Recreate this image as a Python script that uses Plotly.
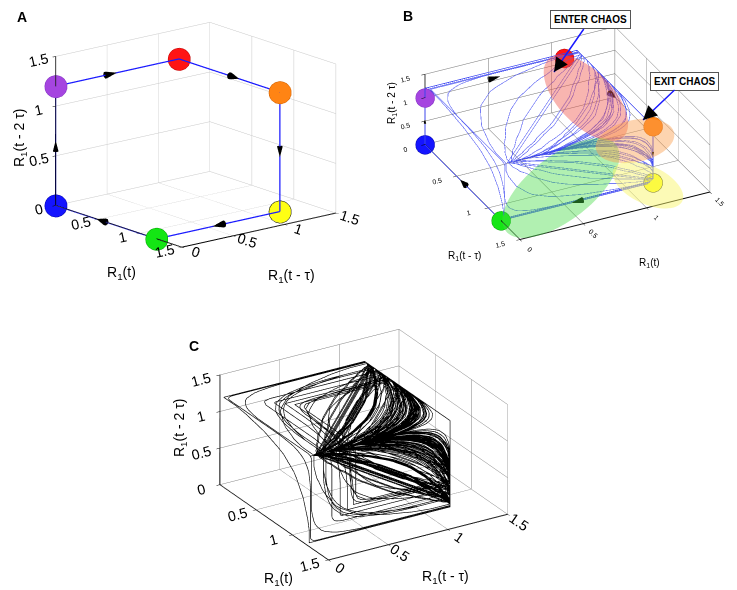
import numpy as np
import plotly.graph_objects as go

W, H = 737, 590

# ---- panel A: the regular cycle (blue, purple, red, orange, yellow, green)
corner_colors = ["#1414ff", "#a545e0", "#ff1414", "#ff8414", "#ffff14", "#14e614"]
corner_edges = ["#0000aa", "#8030c0", "#c00000", "#d06000", "#000000", "#00a000"]
a_x = [0.0, 0.0, 0.0, 1.2, 1.2, 1.2]
a_y = [0.0, 0.0, 1.2, 1.2, 1.2, 0.0]
a_z = [0.0, 1.2, 1.2, 1.2, 0.0, 0.0]
arrow_frac = [0.5, 0.45, 0.55, 0.5, 0.5, 0.55]  # position of arrowhead along each edge

# R1 switches between a high plateau and dips of varying depth / length
HIGH = 1.2

# ---- panel B: marker positions and the transient into / out of chaos
b_x = [0.0, 0.0, 0.0, 1.2, 1.2, 1.2]
b_y = [0.0, 0.0, 1.1, 1.2, 1.2, 0.0]
b_z = [0.0, 1.0, 1.1, 1.2, 0.0, 0.0]
b_hi_dur = [2.2, 2.2, 2.1, 2.3, 2.2, 2.4, 2.1, 2.3, 2.2, 2.4, 2.2, 2.3,
            2.1, 2.2, 2.4, 2.2, 2.3, 2.1, 2.2, 2.4, 2.3, 2.1, 2.2, 2.3,
            2.4, 2.2, 2.1, 2.3, 2.2, 2.2]
b_lo = [0.0, 0.0, 0.03, 0.1, 0.25, 0.05, 0.35, 0.15, 0.45, 0.2, 0.08, 0.3,
        0.12, 0.5, 0.06, 0.4, 0.18, 0.28, 0.09, 0.55, 0.14, 0.33, 0.04, 0.22,
        0.42, 0.07, 0.03, 0.02, 0.0, 0.0]
b_lo_dur = [2.1, 2.1, 1.0, 0.25, 0.1, 0.3, 0.15, 0.05, 0.2, 0.1, 0.3, 0.15,
            0.2, 0.05, 0.25, 0.15, 0.0, 0.2, 0.35, 0.1, 0.15, 0.25, 0.5, 0.2,
            0.1, 0.4, 0.7, 1.1, 2.1, 2.1]

# ---- panel C: chaotic regime
c_hi_dur = [2.3, 2.5, 2.2, 2.4, 2.1, 2.6, 2.3, 2.2, 2.5, 2.4, 2.3, 2.1, 2.5, 2.2,
            2.4, 2.2, 2.6, 2.3, 2.1, 2.5, 2.4, 2.2, 2.3, 2.6, 2.1, 2.4, 2.3, 2.5,
            2.3, 2.5, 2.2, 2.4, 2.1, 2.6, 2.3, 2.2, 2.5, 2.4, 2.3, 2.1, 2.5, 2.2,
            2.4, 2.2, 2.6, 2.3, 2.1, 2.5, 2.4, 2.2, 2.3, 2.6, 2.1, 2.4, 2.3, 2.5,
            2.3, 2.5, 2.2, 2.4, 2.1, 2.6, 2.3, 2.2, 2.5, 2.4, 2.3, 2.1, 2.5, 2.2,
            2.4, 2.2, 2.6, 2.3, 2.1, 2.5, 2.4, 2.2, 2.3, 2.6, 2.1, 2.4, 2.3, 2.5,
            2.3, 2.5, 2.2, 2.4, 2.1, 2.6, 2.3, 2.2, 2.5, 2.4, 2.3, 2.1, 2.5, 2.2,
            2.4, 2.2, 2.6, 2.3, 2.1, 2.5, 2.4, 2.2, 2.3, 2.6, 2.1, 2.4, 2.3, 2.5,
            2.3, 2.5, 2.2, 2.4, 2.1, 2.6, 2.3, 2.2, 2.5, 2.4, 2.3, 2.1, 2.5, 2.2,
            2.4, 2.2, 2.6, 2.3, 2.1, 2.5, 2.4, 2.2, 2.3, 2.6, 2.1, 2.4, 2.3, 2.5]
c_lo = [0.05, 0.32, 0.12, 0.48, 0.08, 0.22, 0.03, 0.38, 0.58, 0.1, 0.27, 0.43, 0.06, 0.18,
        0.52, 0.04, 0.3, 0.14, 0.4, 0.09, 0.64, 0.24, 0.03, 0.34, 0.07, 0.5, 0.16, 0.05,
        0.44, 0.28, 0.11, 0.55, 0.06, 0.36, 0.04, 0.2, 0.46, 0.13, 0.31, 0.08, 0.6, 0.19,
        0.37, 0.25, 0.03, 0.47, 0.1, 0.3, 0.56, 0.15, 0.41, 0.06, 0.23, 0.35, 0.12, 0.51,
        0.66, 0.07, 0.02, 0.29, 0.2, 0.45, 0.09, 0.33, 0.05, 0.53, 0.14, 0.39, 0.08, 0.26,
        0.04, 0.19, 0.47, 0.11, 0.59, 0.24, 0.36, 0.06, 0.42, 0.17, 0.3, 0.03, 0.5, 0.13,
        0.4, 0.07, 0.54, 0.21, 0.34, 0.1, 0.62, 0.27, 0.05, 0.44, 0.15, 0.32, 0.09, 0.49,
        0.18, 0.38, 0.04, 0.57, 0.12, 0.28, 0.46, 0.08, 0.35, 0.22, 0.03, 0.52, 0.16, 0.41,
        0.06, 0.31, 0.6, 0.14, 0.25, 0.43, 0.1, 0.37, 0.05, 0.55, 0.2, 0.33, 0.07, 0.48,
        0.27, 0.12, 0.45, 0.04, 0.39, 0.17, 0.58, 0.09, 0.3, 0.23, 0.5, 0.06, 0.36, 0.15]
c_lo_dur = [0.2, 0.1, 0.3, 0.15, 0.25, 0.05, 0.9, 0.2, 0.1, 0.35, 0.15, 0.0, 0.25, 0.1,
            0.3, 0.2, 0.05, 0.6, 0.15, 0.25, 0.1, 0.3, 0.2, 1.0, 0.05, 0.15, 0.35, 0.2,
            0.1, 0.25, 0.15, 0.3, 0.0, 0.2, 0.7, 0.1, 0.25, 0.15, 0.35, 0.05, 0.2, 0.3,
            0.15, 0.5, 0.1, 0.2, 0.3, 0.05, 0.25, 0.15, 0.8, 0.1, 0.2, 0.35, 0.0, 0.25,
            0.1, 0.3, 1.1, 0.15, 0.2, 0.05, 0.35, 0.1, 0.25, 0.15, 0.55, 0.2, 0.3, 0.05,
            0.25, 0.15, 0.1, 0.3, 0.2, 0.0, 0.65, 0.15, 0.25, 0.1, 0.35, 0.2, 0.05, 0.3,
            0.1, 0.2, 0.15, 0.85, 0.25, 0.05, 0.3, 0.1, 0.2, 0.15, 0.35, 0.45, 0.0, 0.2,
            0.3, 0.1, 0.25, 0.15, 0.2, 0.95, 0.05, 0.3, 0.1, 0.25, 0.2, 0.15, 0.6, 0.1,
            0.2, 0.35, 0.05, 0.15, 0.3, 0.1, 0.25, 0.75, 0.2, 0.0, 0.3, 0.15, 0.1, 0.25,
            0.15, 0.05, 0.3, 0.2, 1.05, 0.1, 0.25, 0.15, 0.35, 0.2, 0.05, 0.5, 0.3, 0.1]

RAMP = 0.7
RAMP_SHAPE = [0.0, 0.02, 0.07, 0.16, 0.3, 0.5, 0.7, 0.84, 0.93, 0.98, 1.0]
DT = 0.02


def build_signal(hi_dur, lo, lo_dur):
    t, v = [0.0], [lo[0]]
    now, prev = 0.0, lo[0]
    n = len(RAMP_SHAPE) - 1
    for dh, l, dl in zip(hi_dur, lo, lo_dur):
        for start, end, hold in ((prev, HIGH, dh), (HIGH, l, dl)):
            for k in range(1, n + 1):
                t.append(now + RAMP * k / n)
                v.append(start + (end - start) * RAMP_SHAPE[k])
            now += RAMP + hold
            t.append(now)
            v.append(end)
        prev = l
    return np.array(t), np.array(v)


def embed(t, v):
    grid = np.arange(0.0, t[-1], DT)
    s = np.interp(grid, t, v)
    lag = int(round(1.0 / DT))
    return s[:-2 * lag], s[lag:-lag], s[2 * lag:]


def ellipse_path(cx, cy, rx, ry, deg):
    k = 0.5523
    a = np.radians(deg)
    ux, uy = np.cos(a), np.sin(a)
    vx, vy = -np.sin(a), np.cos(a)

    def p(u, w):
        px = cx + u * rx * ux + w * ry * vx
        py = cy + u * rx * uy + w * ry * vy
        return f"{px / W:.4f},{1 - py / H:.4f}"

    pts = [(1, 0), (1, k), (k, 1), (0, 1), (-k, 1), (-1, k), (-1, 0),
           (-1, -k), (-k, -1), (0, -1), (k, -1), (1, -k), (1, 0)]
    d = "M" + p(*pts[0])
    for i in range(1, 13, 3):
        d += " C" + " ".join(p(*q) for q in pts[i:i + 3])
    return d + " Z"


def cones(xs, ys, zs, fracs, scene, size=0.13):
    cx, cy, cz, u, v, w = [], [], [], [], [], []
    n = len(xs)
    for i in range(n):
        j = (i + 1) % n
        d = np.array([xs[j] - xs[i], ys[j] - ys[i], zs[j] - zs[i]])
        f = fracs[i]
        cx.append(xs[i] + f * d[0])
        cy.append(ys[i] + f * d[1])
        cz.append(zs[i] + f * d[2])
        d = d / np.linalg.norm(d) * size
        u.append(d[0]); v.append(d[1]); w.append(d[2])
    return go.Cone(x=cx, y=cy, z=cz, u=u, v=v, w=w, anchor="center",
                   sizemode="raw", sizeref=1, showscale=False,
                   colorscale=[[0, "black"], [1, "black"]],
                   lighting=dict(ambient=1, diffuse=0, specular=0),
                   hoverinfo="skip", scene=scene)


fig = go.Figure()

# A
loop_x = a_x + a_x[:1]
loop_y = a_y + a_y[:1]
loop_z = a_z + a_z[:1]
fig.add_trace(go.Scatter3d(x=loop_x, y=loop_y, z=loop_z, mode="lines",
                           line=dict(color="#1a1aff", width=2.5), scene="scene"))
fig.add_trace(cones(a_x, a_y, a_z, arrow_frac, "scene", 0.11))
fig.add_trace(go.Scatter3d(x=a_x, y=a_y, z=a_z, mode="markers",
                           marker=dict(size=13, color=corner_colors,
                                       line=dict(color=corner_edges, width=1)),
                           scene="scene"))

# B
tb, vb = build_signal(b_hi_dur, b_lo, b_lo_dur)
bx, by, bz = embed(tb, vb)
fig.add_trace(go.Scatter3d(x=bx, y=by, z=bz, mode="lines", opacity=0.7,
                           line=dict(color="#3c46f0", width=1.5), scene="scene2"))
fig.add_trace(cones(b_x, b_y, b_z, [0.5, 0.5, 0.55, 0.5, 0.5, 0.5], "scene2", 0.09))
fig.add_trace(go.Scatter3d(x=b_x, y=b_y, z=b_z, mode="markers",
                           marker=dict(size=11, color=corner_colors,
                                       line=dict(color=corner_edges, width=1)),
                           scene="scene2"))

# C
tc, vc = build_signal(c_hi_dur, c_lo, c_lo_dur)
cx, cy, cz = embed(tc, vc)
fig.add_trace(go.Scatter3d(x=cx, y=cy, z=cz, mode="lines",
                           line=dict(color="black", width=1.3), scene="scene3"))

TICKS = [0, 0.5, 1, 1.5]
TICKTEXT = ["0", "0.5", "1", "1.5"]
FONT = "Liberation Sans, Arial, sans-serif"


def axis(grid, size, line=2):
    return dict(range=[0, 1.5], tickvals=TICKS, ticktext=TICKTEXT,
                showbackground=False, gridcolor=grid, gridwidth=1,
                showspikes=False, zeroline=False,
                showline=True, linecolor="black", linewidth=line,
                ticks="outside", tickcolor="black", ticklen=4,
                tickfont=dict(family=FONT, size=size, color="black"),
                title=dict(text=""))


def scene(dx, dy, view, ratio, grid, size, center):
    # the eye is placed relative to the shifted centre so the view direction stays fixed
    eye = [c + v for c, v in zip(center, view)]
    return dict(domain=dict(x=dx, y=dy),
                xaxis=axis(grid, size), yaxis=axis(grid, size),
                zaxis=axis(grid, size),
                aspectmode="manual",
                aspectratio=dict(x=ratio[0], y=ratio[1], z=ratio[2]),
                camera=dict(eye=dict(x=eye[0], y=eye[1], z=eye[2]),
                            center=dict(x=center[0], y=center[1], z=center[2]),
                            up=dict(x=0, y=0, z=1),
                            projection=dict(type="orthographic")))


fig.update_layout(
    width=W, height=H, margin=dict(l=0, r=0, t=0, b=0),
    paper_bgcolor="white", showlegend=False,
    scene=scene([0.0, 0.48], [0.5, 1.0], (1.055, -0.863, 0.383), (1.35, 1.35, 1.05),
                "rgb(200,200,200)", 13, (-0.046, -0.057, -0.146)),
    scene2=scene([0.5, 1.0], [0.5, 1.0], (1.084, -0.542, 0.70), (1.44, 1.44, 0.55),
                 "rgb(110,110,110)", 9, (-0.018, -0.036, -0.175)),
    scene3=scene([0.24, 0.77], [0.0, 0.5], (1.096, -0.665, 0.594), (1.42, 1.42, 0.82),
                 "rgb(130,130,130)", 13, (0.059, 0.097, -0.044)),
)

# coloured regions of panel B
blobs = [
    (578, 90, 54, 27, 46, "rgba(240,90,80,0.45)"),
    (553, 180, 70, 32, -38, "rgba(70,220,70,0.42)"),
    (627, 133, 40, 21, -12, "rgba(250,160,80,0.45)"),
    (640, 177, 38, 19, 25, "rgba(250,245,110,0.5)"),
]
for cxp, cyp, rx, ry, ang, col in blobs:
    fig.add_shape(type="path", path=ellipse_path(cxp, cyp, rx, ry, ang),
                  xref="paper", yref="paper", fillcolor=col,
                  line=dict(width=0), layer="above")

# annotations
for txt, (tx, ty), (bx0, by0) in [("ENTER CHAOS", (546, 64), (582, 12)),
                                  ("EXIT CHAOS", (635, 112), (676, 73))]:
    fig.add_annotation(x=tx / W, y=1 - ty / H, xref="paper", yref="paper",
                       ax=bx0 - tx, ay=by0 - ty, text=f"<b>{txt}</b>",
                       font=dict(family=FONT, size=10, color="black"),
                       bgcolor="white", bordercolor="#555555", borderwidth=1,
                       borderpad=3, showarrow=True, arrowhead=0,
                       arrowwidth=1.5, arrowcolor="#1a1aff")
    dx, dy = bx0 - tx, by0 - ty
    norm = np.hypot(dx, dy)
    fig.add_annotation(x=tx / W, y=1 - ty / H, xref="paper", yref="paper",
                       ax=dx / norm * 14, ay=dy / norm * 14, text="",
                       showarrow=True, arrowhead=2, arrowsize=1.4,
                       arrowwidth=2, arrowcolor="black")

# axis titles
RT = "R<sub>1</sub>(t)"
RT1 = "R<sub>1</sub>(t - τ)"
RT2 = "R<sub>1</sub>(t - 2 τ)"
titles = [
    (RT, 113, 265, 0, 14), (RT1, 283, 268, 0, 14), (RT2, 12, 130, -90, 14),
    (RT1, 457, 248, 0, 10), (RT, 641, 255, 0, 10), (RT2, 384, 95, -90, 10),
    (RT, 270, 571, 0, 14), (RT1, 437, 569, 0, 14), (RT2, 172, 420, -90, 14),
]
for txt, px, py, ang, size in titles:
    fig.add_annotation(x=px / W, y=1 - py / H, xref="paper", yref="paper",
                       xanchor="center", yanchor="middle",
                       text=txt, textangle=ang, showarrow=False,
                       font=dict(family=FONT, size=size, color="black"))

for lab, (lx, ly) in [("A", (14, 9)), ("B", (400, 8)), ("C", (186, 338))]:
    fig.add_annotation(x=lx / W, y=1 - ly / H, xref="paper", yref="paper",
                       xanchor="center", yanchor="middle",
                       text=f"<b>{lab}</b>", showarrow=False,
                       font=dict(family=FONT, size=14, color="black"))

fig.write_html("out.html")
